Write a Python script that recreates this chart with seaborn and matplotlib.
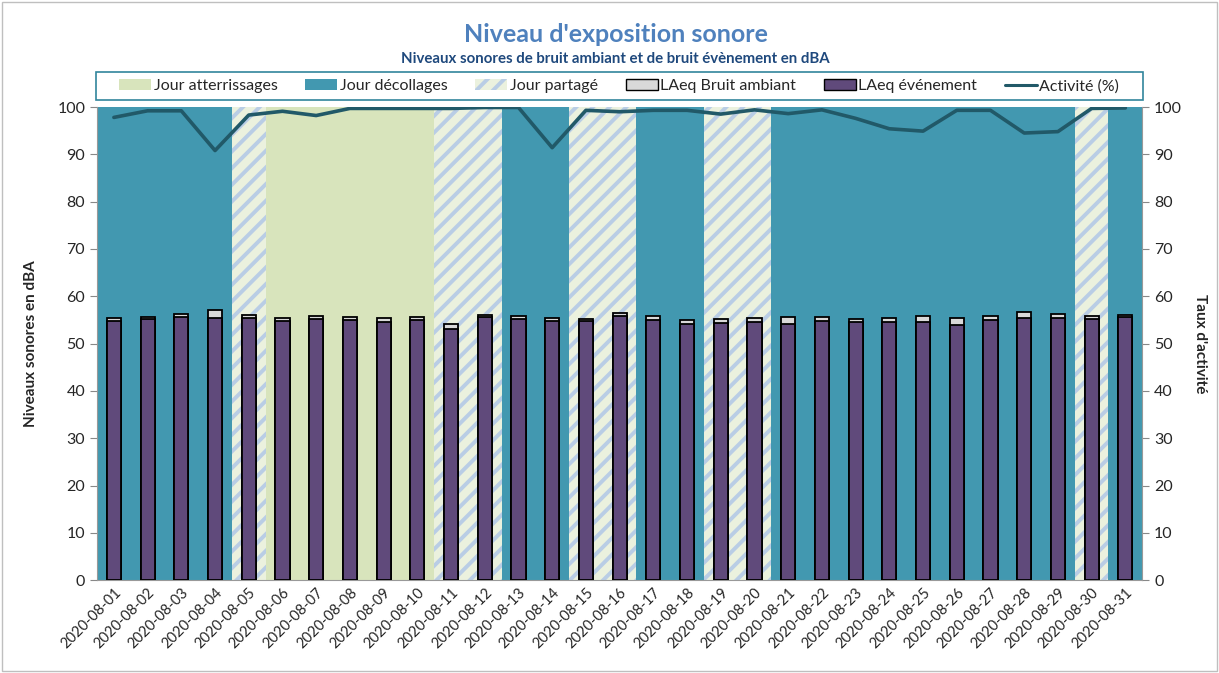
import numpy as np
import matplotlib
matplotlib.use("Agg")
import matplotlib.pyplot as plt
import matplotlib.patches as mpatches
import matplotlib.lines as mlines
import seaborn as sns

# ---- data ----
dates = ["2020-08-%02d" % d for d in range(1, 32)]

# day type : D = décollages, A = atterrissages, P = partagé
day_type = ["D", "D", "D", "D", "P", "A", "A", "A", "A", "A",
            "P", "P", "D", "D", "P", "P", "D", "D", "P", "P",
            "D", "D", "D", "D", "D", "D", "D", "D", "D", "P", "D"]

laeq_ambiant = [55.35, 55.6, 56.3, 57.0, 56.0, 55.3, 55.8, 55.6, 55.3, 55.6,
                54.1, 56.0, 55.8, 55.5, 55.2, 56.4, 55.8, 54.9, 55.1, 55.35,
                55.7, 55.6, 55.2, 55.5, 55.8, 55.3, 55.9, 56.6, 56.2, 55.8, 56.1]

laeq_evenement = [54.8, 55.1, 55.6, 55.5, 55.3, 54.7, 55.1, 55.0, 54.5, 54.9,
                  53.0, 55.6, 55.1, 54.8, 54.7, 55.8, 54.9, 54.1, 54.4, 54.5,
                  54.2, 54.8, 54.5, 54.5, 54.5, 54.0, 55.0, 55.5, 55.5, 55.2, 55.6]

activite = [97.8, 99.2, 99.2, 90.8, 98.3, 99.1, 98.2, 99.7, 99.7, 99.7,
            99.7, 99.9, 99.9, 91.4, 99.3, 99.0, 99.3, 99.3, 98.5, 99.4,
            98.6, 99.4, 97.6, 95.4, 94.9, 99.3, 99.3, 94.5, 94.8, 99.7, 99.8]

yticks = list(range(0, 101, 10))

# ---- colours ----
C_ATT = "#D8E4BC"
C_DEC = "#4298B0"
C_PART_BG = "#EBF1DE"
C_PART_HATCH = "#B9CDE5"
C_AMB = "#D9D9D9"
C_EVT = "#604A7B"
C_LINE = "#215968"

sns.set_style("white")
plt.rcParams["font.family"] = ["Lato", "DejaVu Sans"]
plt.rcParams["hatch.linewidth"] = 2.8

fig = plt.figure(figsize=(12.19, 6.73), dpi=100)
ax = fig.add_axes([0.0796, 0.138, 0.8574, 0.703])

# background bands per day type
for i, t in enumerate(day_type):
    if t == "D":
        ax.axvspan(i - 0.5, i + 0.5, facecolor=C_DEC, lw=0, zorder=0)
    elif t == "A":
        ax.axvspan(i - 0.5, i + 0.5, facecolor=C_ATT, lw=0, zorder=0)
    else:
        ax.axvspan(i - 0.5, i + 0.5, facecolor=C_PART_BG, edgecolor=C_PART_HATCH,
                   hatch="//", lw=0, zorder=0)

# bars: ambient behind, event in front
sns.barplot(x=dates, y=laeq_ambiant, color=C_AMB, saturation=1, width=0.42,
            edgecolor="black", linewidth=1.3, ax=ax, zorder=2)
sns.barplot(x=dates, y=laeq_evenement, color=C_EVT, saturation=1, width=0.42,
            edgecolor="black", linewidth=1.3, ax=ax, zorder=3)

ax.set_xlim(-0.5, len(dates) - 0.5)
ax.set_ylim(0, 100)
ax.set_yticks(yticks)
ax.tick_params(axis="y", labelsize=11.5, length=5, color="#888888", direction="out", left=True)
ax.tick_params(axis="x", labelsize=10.5, length=0, pad=4)
plt.setp(ax.get_xticklabels(), rotation=45, ha="right", rotation_mode="anchor")
ax.set_ylabel("Niveaux sonores en dBA", fontsize=11, fontweight="bold", labelpad=14)
ax.set_xlabel("")
for s in ["top", "right"]:
    ax.spines[s].set_visible(False)
ax.spines["left"].set_color("#999999")
ax.spines["bottom"].set_color("#999999")

# activity line on secondary axis
ax2 = ax.twinx()
sns.lineplot(x=np.arange(len(dates)), y=activite, color=C_LINE, linewidth=2.6, ax=ax2)
ax2.set_ylim(0, 100)
ax2.set_yticks(yticks)
ax2.set_xlim(-0.5, len(dates) - 0.5)
ax2.tick_params(axis="y", labelsize=11.5, length=5, color="#888888", direction="out", right=True)
ax2.set_ylabel("Taux d'activité", fontsize=11, fontweight="bold", rotation=270, labelpad=18)
for s in ["top", "left", "bottom"]:
    ax2.spines[s].set_visible(False)
ax2.spines["right"].set_color("#999999")

# titles
fig.text(0.505, 0.949, "Niveau d'exposition sonore", ha="center", va="center",
         fontsize=18, fontweight="bold", color="#4F81BD")
fig.text(0.505, 0.912, "Niveaux sonores de bruit ambiant et de bruit évènement en dBA",
         ha="center", va="center", fontsize=10.8, fontweight="bold", color="#1F497D")

# legend
handles = [
    mpatches.Patch(facecolor=C_ATT, edgecolor="none"),
    mpatches.Patch(facecolor=C_DEC, edgecolor="none"),
    mpatches.Patch(facecolor=C_PART_BG, edgecolor=C_PART_HATCH, hatch="//", lw=0),
    mpatches.Patch(facecolor=C_AMB, edgecolor="black", lw=1),
    mpatches.Patch(facecolor=C_EVT, edgecolor="black", lw=1),
    mlines.Line2D([], [], color=C_LINE, lw=2.2),
]
labels = ["Jour atterrissages", "Jour décollages", "Jour partagé",
          "LAeq Bruit ambiant", "LAeq événement", "Activité (%)"]
fig.legend(handles, labels, loc="center", ncol=6,
           bbox_to_anchor=(0.508, 0.872), frameon=False, fontsize=11.5,
           handlelength=2.0, handletextpad=0.15, columnspacing=1.75,
           borderaxespad=0)
fig.patches.append(mpatches.Rectangle((0.079, 0.851), 0.859, 0.042, transform=fig.transFigure,
                                      fill=False, edgecolor="#31859C", lw=1.2))

# outer chart border
fig.patches.append(mpatches.Rectangle((0.002, 0.003), 0.996, 0.994, transform=fig.transFigure,
                                      fill=False, edgecolor="#BFBFBF", lw=1))

fig.savefig("out.png", dpi=100)
